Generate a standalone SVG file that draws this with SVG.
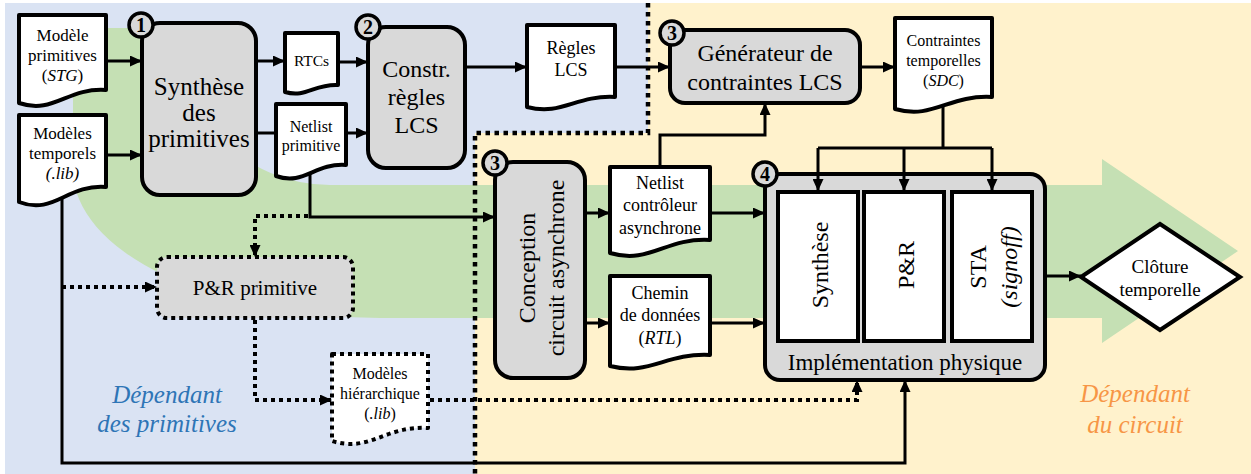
<svg xmlns="http://www.w3.org/2000/svg" width="1251" height="474" viewBox="0 0 1251 474" font-family="'Liberation Serif', 'DejaVu Serif', serif">
<style>
text{font-family:'Liberation Serif','DejaVu Serif',serif;fill:#000;text-anchor:middle}
.node{fill:#d9d9d9;stroke:#000;stroke-width:4}
.doc{fill:#fff;stroke:#000;stroke-width:4;stroke-linejoin:round}
.inner{fill:#fff;stroke:#000;stroke-width:4}
.dot{stroke-dasharray:4 4}
.conn{fill:none;stroke:#000;stroke-width:3}
.dconn{fill:none;stroke:#000;stroke-width:4;stroke-dasharray:4 4}
.badge circle{fill:#d9d9d9;stroke:#000;stroke-width:3.5}
.badge text{font-weight:bold;font-size:20px}
.it{font-style:italic}
</style>
<defs>
<marker id="arr" markerUnits="userSpaceOnUse" markerWidth="12" markerHeight="11" refX="12" refY="5.5" orient="auto">
<path d="M0,0 L12,5.5 L0,11 Z" fill="#000"/>
</marker>
</defs>
<g id="background">
<rect x="5" y="3" width="1246" height="471" fill="#fff2cc"/>
<polygon points="5,3 648,3 648,133 475,133 475,474 5,474" fill="#dae3f3"/>
<path d="M73,28 H175 A155 157 0 0 0 330,185 H1102 V159 L1238,251 L1102,343 V318 H380 A307 148 0 0 1 73,170 Z" fill="#c5e0b4"/>
<polyline points="648,3 648,133 475,133 475,474" fill="none" stroke="#000" stroke-width="4.5" stroke-dasharray="4.5 4.5"/>
<text x="167" y="403" class="it" style="font-size:25px;fill:#2e75b6">Dépendant</text>
<text x="167" y="432" class="it" style="font-size:25px;fill:#2e75b6">des primitives</text>
<text x="1135" y="402" class="it" style="font-size:25px;fill:#f79646">Dépendant</text>
<text x="1135" y="433" class="it" style="font-size:25px;fill:#f79646">du circuit</text>
</g>
<g id="nodes">
<g id="doc-stg">
<path class="doc" d="M19,15 H106 V90 C66.9,87.4 53.8,114.7 19,103 Z"/>
<text x="62.5" y="41" style="font-size:17px">Modèle</text>
<text x="62.5" y="61" style="font-size:17px">primitives</text>
<text x="62.5" y="81" style="font-size:17px">(<tspan class="it">STG</tspan>)</text>
</g>
<g id="doc-lib">
<path class="doc" d="M19,115 H106 V187 C66.9,184 53.8,215.5 19,202 Z"/>
<text x="62.5" y="139" style="font-size:17px">Modèles</text>
<text x="62.5" y="159" style="font-size:17px">temporels</text>
<text x="62.5" y="179" class="it" style="font-size:17px">(.lib)</text>
</g>
<g id="synth-prim">
<rect class="node" x="142" y="23" width="114" height="172" rx="18"/>
<text x="199" y="95" style="font-size:25px">Synthèse</text>
<text x="199" y="121" style="font-size:25px">des</text>
<text x="199" y="147" style="font-size:25px">primitives</text>
<g class="badge"><circle cx="141" cy="25" r="12"/><text x="141" y="32">1</text></g>
</g>
<g id="doc-rtcs">
<path class="doc" d="M285,33 H338 V85 C314.2,83.6 306.2,98.3 285,92 Z"/>
<text x="311.5" y="65.5" style="font-size:15.5px">RTCs</text>
</g>
<g id="doc-netlist-prim">
<path class="doc" d="M276,104 H346 V165 C314.5,162.8 304,185.9 276,176 Z"/>
<text x="311" y="131.5" style="font-size:16px">Netlist</text>
<text x="311" y="150.5" style="font-size:16px">primitive</text>
</g>
<g id="constr">
<rect class="node" x="368" y="27" width="97" height="141" rx="18"/>
<text x="416.5" y="77" style="font-size:24px">Constr.</text>
<text x="416.5" y="105" style="font-size:24px">règles</text>
<text x="416.5" y="133" style="font-size:24px">LCS</text>
<g class="badge"><circle cx="368" cy="27" r="12"/><text x="368" y="34">2</text></g>
</g>
<g id="doc-regles">
<path class="doc" d="M527,25 H615 V97 C575.4,95 562.2,116 527,107 Z"/>
<text x="571" y="54" style="font-size:18px">Règles</text>
<text x="571" y="76" style="font-size:18px">LCS</text>
</g>
<g id="generateur">
<rect class="node" x="670" y="30" width="190" height="73" rx="15"/>
<text x="765" y="61" style="font-size:24px">Générateur de</text>
<text x="765" y="90" style="font-size:24px">contraintes LCS</text>
<g class="badge"><circle cx="672" cy="33" r="12"/><text x="672" y="40">3</text></g>
</g>
<g id="doc-sdc">
<path class="doc" d="M895,18 H992 V97 C948.4,94.6 933.8,119.8 895,109 Z"/>
<text x="943.5" y="45.5" style="font-size:16px">Contraintes</text>
<text x="943.5" y="65.5" style="font-size:16px">temporelles</text>
<text x="943.5" y="85.5" style="font-size:16px">(<tspan class="it">SDC</tspan>)</text>
</g>
<g id="pr-primitive">
<rect class="node dot" x="157" y="257" width="196" height="61" rx="10"/>
<text x="255" y="295" style="font-size:21px">P&amp;R primitive</text>
</g>
<g id="doc-hier">
<path class="doc dot" d="M332,354 H428 V428 C384.8,425.4 370.4,452.7 332,441 Z"/>
<text x="380" y="378.5" style="font-size:16px">Modèles</text>
<text x="380" y="398.5" style="font-size:16px">hiérarchique</text>
<text x="380" y="418.5" style="font-size:16px">(<tspan class="it">.lib</tspan>)</text>
</g>
<g id="conception">
<rect class="node" x="495" y="162" width="90" height="216" rx="18"/>
<g transform="translate(527,268) rotate(-90)"><text x="0" y="8" style="font-size:24px">Conception</text></g>
<g transform="translate(556,268) rotate(-90)"><text x="0" y="8" style="font-size:24px">circuit asynchrone</text></g>
<g class="badge"><circle cx="495" cy="163" r="12"/><text x="495" y="170">3</text></g>
</g>
<g id="doc-netlist-ctrl">
<path class="doc" d="M610,167 H710 V240 C665,237.4 650,264.7 610,253 Z"/>
<text x="660" y="189" style="font-size:18px">Netlist</text>
<text x="660" y="211" style="font-size:18px">contrôleur</text>
<text x="660" y="234" style="font-size:18px">asynchrone</text>
</g>
<g id="doc-chemin">
<path class="doc" d="M610,276 H710 V355 C665,352.8 650,375.9 610,366 Z"/>
<text x="660" y="299" style="font-size:18px">Chemin</text>
<text x="660" y="321" style="font-size:18px">de données</text>
<text x="660" y="344" style="font-size:18px">(<tspan class="it">RTL</tspan>)</text>
</g>
<g id="implementation">
<rect class="node" x="765" y="174" width="280" height="206" rx="15"/>
<rect class="inner" x="778" y="192" width="80" height="149"/>
<rect class="inner" x="864" y="192" width="80" height="149"/>
<rect class="inner" x="952" y="192" width="80" height="149"/>
<g transform="translate(820,265) rotate(-90)"><text x="0" y="8" style="font-size:24px">Synthèse</text></g>
<g transform="translate(906,265) rotate(-90)"><text x="0" y="8" style="font-size:24px">P&amp;R</text></g>
<g transform="translate(978,267) rotate(-90)"><text x="0" y="8" style="font-size:24px">STA</text></g>
<g transform="translate(1009,267) rotate(-90)"><text x="0" y="8" class="it" style="font-size:24px">(signoff)</text></g>
<text x="905" y="370" style="font-size:23px">Implémentation physique</text>
<g class="badge"><circle cx="765" cy="174" r="12"/><text x="765" y="181">4</text></g>
</g>
<g id="cloture">
<polygon points="1081,277 1160,224 1240,277 1160,330" fill="#fff" stroke="#000" stroke-width="4" stroke-linejoin="miter"/>
<text x="1160" y="273" style="font-size:19px">Clôture</text>
<text x="1160" y="296" style="font-size:19px">temporelle</text>
</g>
</g>
<g id="connectors">
<path class="conn" d="M106,61 H142" marker-end="url(#arr)"/>
<path class="conn" d="M106,155 H142" marker-end="url(#arr)"/>
<path class="conn" d="M256,61 H285" marker-end="url(#arr)"/>
<path class="conn" d="M256,133 H276"/>
<path class="conn" d="M338,62 H368" marker-end="url(#arr)"/>
<path class="conn" d="M346,133 H368" marker-end="url(#arr)"/>
<path class="conn" d="M465,67 H527" marker-end="url(#arr)"/>
<path class="conn" d="M615,67 H670" marker-end="url(#arr)"/>
<path class="conn" d="M860,67 H895" marker-end="url(#arr)"/>
<path class="conn" d="M943,105 V148"/>
<path class="conn" d="M818,148 H992"/>
<path class="conn" d="M818,148 V191" marker-end="url(#arr)"/>
<path class="conn" d="M904,148 V191" marker-end="url(#arr)"/>
<path class="conn" d="M992,148 V191" marker-end="url(#arr)"/>
<path class="conn" d="M310,173 V217 H495" marker-end="url(#arr)"/>
<path class="dconn" d="M308,216 H255 V257" marker-end="url(#arr)"/>
<path class="conn" d="M62,198 V463 H905 V380" marker-end="url(#arr)"/>
<path class="dconn" d="M62,287 H157" marker-end="url(#arr)"/>
<path class="dconn" d="M255,320 V400 H332" marker-end="url(#arr)"/>
<path class="dconn" d="M430,400 H857 V380" marker-end="url(#arr)"/>
<path class="conn" d="M585,213 H610" marker-end="url(#arr)"/>
<path class="conn" d="M585,323 H610" marker-end="url(#arr)"/>
<path class="conn" d="M710,213 H765" marker-end="url(#arr)"/>
<path class="conn" d="M710,323 H765" marker-end="url(#arr)"/>
<path class="conn" d="M660,167 V135 H765 V103" marker-end="url(#arr)"/>
<path class="conn" d="M1045,276 H1081" marker-end="url(#arr)"/>
</g>
</svg>
